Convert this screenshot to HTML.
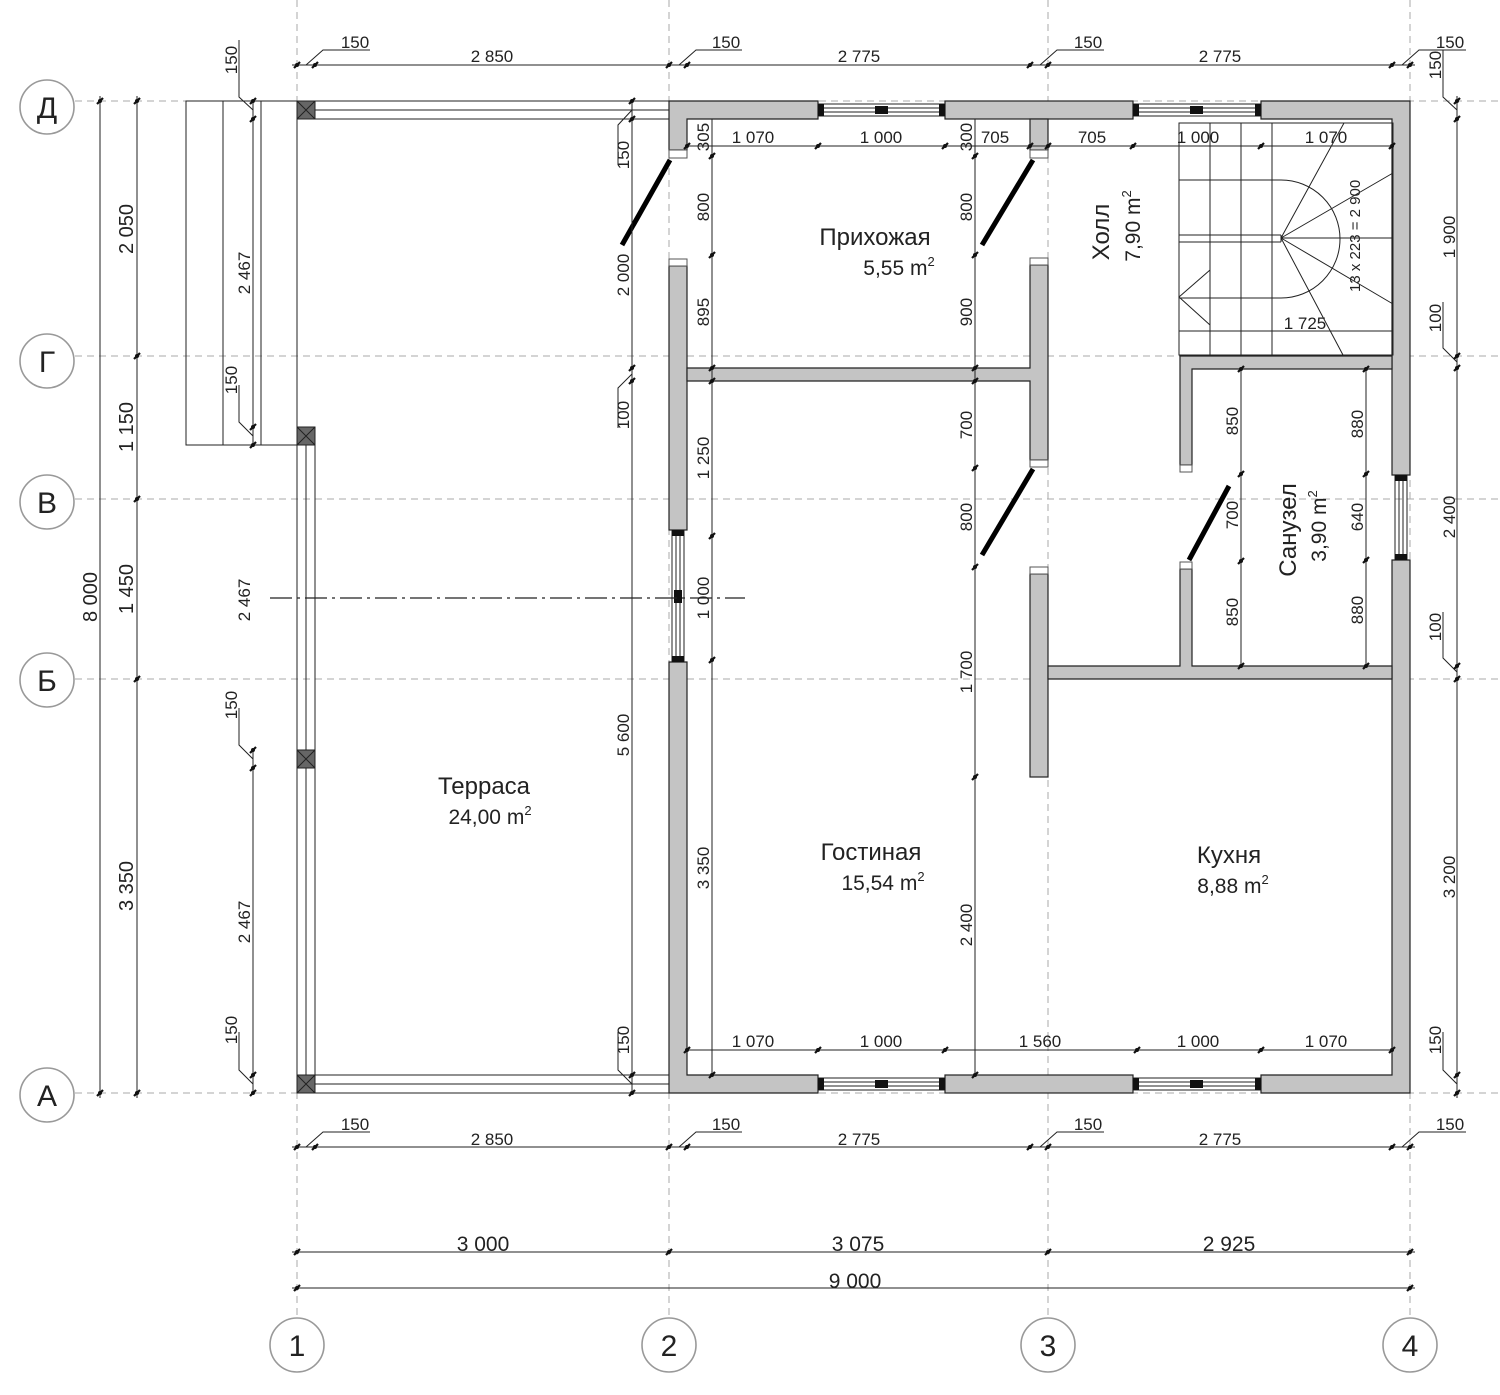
<!DOCTYPE html>
<html><head><meta charset="utf-8"><style>
html,body{margin:0;padding:0;background:#fff}
svg{display:block}
text{font-family:"Liberation Sans",sans-serif;fill:#222}
.d{font-size:17px}
.r{font-size:24px}
.a{font-size:21px}
.g{stroke:#aaa;stroke-width:1;stroke-dasharray:7 5;fill:none}
.l{stroke:#222;stroke-width:1;fill:none}
.w{fill:#c4c4c4;stroke:#222;stroke-width:1.2}
.j{fill:#fff;stroke:#555;stroke-width:1}
.t{stroke:#111;stroke-width:2.2}
.dr{stroke:#000;stroke-width:5}
.c{fill:none;stroke:#999;stroke-width:1.6}
.ax{font-size:30px;fill:#888}
</style></head><body>
<svg width="1500" height="1395" viewBox="0 0 1500 1395" xmlns="http://www.w3.org/2000/svg">
<defs>
<g id="tk"><line x1="-3" y1="3" x2="3" y2="-3" class="t"/><circle r="2" fill="#111"/></g>
</defs>
<g class="g">
<line x1="75" y1="101" x2="1500" y2="101"/>
<line x1="75" y1="356" x2="1500" y2="356"/>
<line x1="75" y1="499" x2="1500" y2="499"/>
<line x1="75" y1="679" x2="1500" y2="679"/>
<line x1="75" y1="1093" x2="1500" y2="1093"/>
<line x1="297" y1="0" x2="297" y2="1318"/>
<line x1="669" y1="0" x2="669" y2="1318"/>
<line x1="1048" y1="0" x2="1048" y2="1318"/>
<line x1="1410" y1="0" x2="1410" y2="1318"/>
</g>
<g class="c">
<circle cx="47" cy="107" r="27"/><circle cx="47" cy="361" r="27"/><circle cx="47" cy="502" r="27"/><circle cx="47" cy="680" r="27"/><circle cx="47" cy="1095" r="27"/>
<circle cx="297" cy="1345" r="27"/><circle cx="669" cy="1345" r="27"/><circle cx="1048" cy="1345" r="27"/><circle cx="1410" cy="1345" r="27"/>
</g>
<g class="ax" text-anchor="middle">
<text x="47" y="118">Д</text><text x="47" y="372">Г</text><text x="47" y="513">В</text><text x="47" y="691">Б</text><text x="47" y="1106">А</text>
<text x="297" y="1356">1</text><text x="669" y="1356">2</text><text x="1048" y="1356">3</text><text x="1410" y="1356">4</text>
</g>

<g class="l">
<rect x="186" y="101" width="111" height="344"/>
<line x1="223" y1="101" x2="223" y2="445"/>
<line x1="261" y1="101" x2="261" y2="445"/>
<line x1="315" y1="101" x2="669" y2="101"/><line x1="315" y1="110" x2="669" y2="110"/><line x1="315" y1="119" x2="669" y2="119"/>
<line x1="315" y1="1075" x2="669" y2="1075"/><line x1="315" y1="1084" x2="669" y2="1084"/><line x1="315" y1="1093" x2="669" y2="1093"/>
<line x1="297" y1="445" x2="297" y2="1075"/><line x1="306" y1="445" x2="306" y2="1075"/><line x1="315" y1="445" x2="315" y2="1075"/>
</g>
<g fill="#666" stroke="#222">
<rect x="297" y="101" width="18" height="18"/><rect x="297" y="427" width="18" height="18"/><rect x="297" y="750" width="18" height="18"/><rect x="297" y="1075" width="18" height="18"/>
</g>
<g stroke="#222" stroke-width="1">
<path d="M297 101l18 18M315 101l-18 18M297 427l18 18M315 427l-18 18M297 750l18 18M315 750l-18 18M297 1075l18 18M315 1075l-18 18"/>
</g>

<g class="w">
<path d="M669 101H818V119H687V150H669Z"/>
<rect x="945" y="101" width="188" height="18"/>
<path d="M1261 101H1410V475H1392V119H1261Z"/>
<path d="M1392 560H1410V1093H1261V1075H1392Z"/>
<rect x="945" y="1075" width="188" height="18"/>
<path d="M669 662H687V1075H818V1093H669Z"/>
<rect x="669" y="266" width="18" height="264"/>
<rect x="1030" y="119" width="18" height="31"/>
<path d="M687 368H1030V265H1048V460H1030V381H687Z"/>
<rect x="1030" y="574" width="18" height="203"/>
<path d="M1180 356H1392V369H1192V465H1180Z"/>
<path d="M1180 569H1192V666H1392V679H1048V666H1180Z"/>
</g>
<g class="j">
<rect x="669" y="150" width="18" height="8"/><rect x="669" y="259" width="18" height="7"/>
<rect x="1030" y="150" width="18" height="8"/><rect x="1030" y="258" width="18" height="7"/>
<rect x="1030" y="460" width="18" height="7"/><rect x="1030" y="567" width="18" height="7"/>
<rect x="1180" y="465" width="12" height="7"/><rect x="1180" y="562" width="12" height="7"/>
</g>
<g class="dr">
<line x1="670" y1="160" x2="622" y2="245"/>
<line x1="1033" y1="160" x2="982" y2="245"/>
<line x1="1033" y1="469" x2="982" y2="555"/>
<line x1="1229" y1="486" x2="1189" y2="560"/>
</g>
<g class="l" stroke-width="0.8">
<path d="M818 104H945M818 108H945M818 112H945M818 116H945"/>
<path d="M1133 104H1261M1133 108H1261M1133 112H1261M1133 116H1261"/>
<path d="M818 1078H945M818 1082H945M818 1086H945M818 1090H945"/>
<path d="M1133 1078H1261M1133 1082H1261M1133 1086H1261M1133 1090H1261"/>
<path d="M672 530V662M676 530V662M680 530V662M684 530V662"/>
<path d="M1395 475V560M1399 475V560M1403 475V560M1407 475V560"/>
</g>
<g fill="#111">
<rect x="818" y="104" width="6" height="12"/><rect x="939" y="104" width="6" height="12"/><rect x="875" y="106" width="13" height="8"/>
<rect x="1133" y="104" width="6" height="12"/><rect x="1255" y="104" width="6" height="12"/><rect x="1190" y="106" width="13" height="8"/>
<rect x="818" y="1078" width="6" height="12"/><rect x="939" y="1078" width="6" height="12"/><rect x="875" y="1080" width="13" height="8"/>
<rect x="1133" y="1078" width="6" height="12"/><rect x="1255" y="1078" width="6" height="12"/><rect x="1190" y="1080" width="13" height="8"/>
<rect x="672" y="530" width="12" height="6"/><rect x="672" y="656" width="12" height="6"/><rect x="674" y="590" width="8" height="13"/>
<rect x="1395" y="475" width="12" height="6"/><rect x="1395" y="554" width="12" height="6"/>
</g>
<line x1="270" y1="598" x2="745" y2="598" stroke="#222" stroke-width="1.3" stroke-dasharray="22 5 3 5"/>

<g class="l">
<rect x="1179" y="123" width="214" height="232"/>
<path d="M1210 123V355M1241 123V355M1272 123V355"/>
<path d="M1179 180H1281A57 57 0 0 1 1281 298H1179"/>
<path d="M1179 235H1281M1179 242H1281M1281 235V242"/>
<path d="M1281 238L1344 123M1281 238L1393 173M1281 238H1393M1281 238L1393 304M1281 238L1343 355"/>
<path d="M1210 270L1179 297L1210 325"/>
<line x1="1179" y1="331" x2="1393" y2="331"/>
</g>
<text class="d" x="1305" y="329" text-anchor="middle">1 725</text>
<text font-size="15" transform="translate(1360,292) rotate(-90)">13 x 223 = 2 900</text>

<g class="l">
<line x1="292" y1="65" x2="1415" y2="65"/>
<line x1="292" y1="1147" x2="1415" y2="1147"/>
<line x1="292" y1="1252" x2="1415" y2="1252"/>
<line x1="292" y1="1288" x2="1415" y2="1288"/>
<line x1="100" y1="96" x2="100" y2="1098"/>
<line x1="137" y1="96" x2="137" y2="1098"/>
<line x1="1457" y1="96" x2="1457" y2="1098"/>
<line x1="253" y1="101" x2="253" y2="445"/>
<line x1="253" y1="750" x2="253" y2="1093"/>
<line x1="632" y1="101" x2="632" y2="1093"/>
<line x1="687" y1="146" x2="1392" y2="146"/>
<line x1="687" y1="1050" x2="1392" y2="1050"/>
<line x1="712" y1="119" x2="712" y2="1075"/>
<line x1="975" y1="119" x2="975" y2="1075"/>
<line x1="1241" y1="369" x2="1241" y2="666"/>
<line x1="1366" y1="369" x2="1366" y2="666"/>
<path d="M306 65L323 50H370M679 65L696 50H742M1040 65L1057 50H1104M1402 65L1419 50H1466"/>
<path d="M306 1147L323 1132H370M679 1147L696 1132H742M1040 1147L1057 1132H1104M1402 1147L1419 1132H1466"/>
<path d="M253 110L239 97V40M253 436L239 422V385M253 759L239 745V708M253 1084L239 1070V1032"/>
<path d="M632 110L618 125V165M632 374L618 388V428M632 1084L618 1070V1032"/>
<path d="M1457 110L1443 97V50M1457 362L1443 348V302M1457 672L1443 658V612M1457 1084L1443 1070V1032"/>
</g>
<g>
<use href="#tk" x="297" y="65"/><use href="#tk" x="315" y="65"/><use href="#tk" x="669" y="65"/><use href="#tk" x="687" y="65"/><use href="#tk" x="1030" y="65"/><use href="#tk" x="1048" y="65"/><use href="#tk" x="1392" y="65"/><use href="#tk" x="1410" y="65"/>
<use href="#tk" x="297" y="1147"/><use href="#tk" x="315" y="1147"/><use href="#tk" x="669" y="1147"/><use href="#tk" x="687" y="1147"/><use href="#tk" x="1030" y="1147"/><use href="#tk" x="1048" y="1147"/><use href="#tk" x="1392" y="1147"/><use href="#tk" x="1410" y="1147"/>
<use href="#tk" x="297" y="1252"/><use href="#tk" x="669" y="1252"/><use href="#tk" x="1048" y="1252"/><use href="#tk" x="1410" y="1252"/>
<use href="#tk" x="297" y="1288"/><use href="#tk" x="1410" y="1288"/>
<use href="#tk" x="100" y="101"/><use href="#tk" x="100" y="1093"/>
<use href="#tk" x="137" y="101"/><use href="#tk" x="137" y="356"/><use href="#tk" x="137" y="499"/><use href="#tk" x="137" y="679"/><use href="#tk" x="137" y="1093"/>
<use href="#tk" x="1457" y="101"/><use href="#tk" x="1457" y="119"/><use href="#tk" x="1457" y="356"/><use href="#tk" x="1457" y="368"/><use href="#tk" x="1457" y="666"/><use href="#tk" x="1457" y="679"/><use href="#tk" x="1457" y="1075"/><use href="#tk" x="1457" y="1093"/>
<use href="#tk" x="253" y="101"/><use href="#tk" x="253" y="119"/><use href="#tk" x="253" y="427"/><use href="#tk" x="253" y="445"/>
<use href="#tk" x="253" y="750"/><use href="#tk" x="253" y="768"/><use href="#tk" x="253" y="1075"/><use href="#tk" x="253" y="1093"/>
<use href="#tk" x="632" y="101"/><use href="#tk" x="632" y="119"/><use href="#tk" x="632" y="368"/><use href="#tk" x="632" y="381"/><use href="#tk" x="632" y="1075"/><use href="#tk" x="632" y="1093"/>
<use href="#tk" x="687" y="146"/><use href="#tk" x="818" y="146"/><use href="#tk" x="945" y="146"/><use href="#tk" x="1030" y="146"/><use href="#tk" x="1048" y="146"/><use href="#tk" x="1133" y="146"/><use href="#tk" x="1261" y="146"/><use href="#tk" x="1392" y="146"/>
<use href="#tk" x="687" y="1050"/><use href="#tk" x="818" y="1050"/><use href="#tk" x="945" y="1050"/><use href="#tk" x="1137" y="1050"/><use href="#tk" x="1261" y="1050"/><use href="#tk" x="1392" y="1050"/>
<use href="#tk" x="712" y="156"/><use href="#tk" x="712" y="255"/><use href="#tk" x="712" y="368"/><use href="#tk" x="712" y="381"/><use href="#tk" x="712" y="536"/><use href="#tk" x="712" y="660"/><use href="#tk" x="712" y="1075"/>
<use href="#tk" x="975" y="156"/><use href="#tk" x="975" y="255"/><use href="#tk" x="975" y="368"/><use href="#tk" x="975" y="381"/><use href="#tk" x="975" y="468"/><use href="#tk" x="975" y="567"/><use href="#tk" x="975" y="777"/><use href="#tk" x="975" y="1075"/>
<use href="#tk" x="1241" y="369"/><use href="#tk" x="1241" y="474"/><use href="#tk" x="1241" y="561"/><use href="#tk" x="1241" y="666"/>
<use href="#tk" x="1366" y="369"/><use href="#tk" x="1366" y="474"/><use href="#tk" x="1366" y="560"/><use href="#tk" x="1366" y="666"/>
</g>

<g class="d" text-anchor="middle">
<text x="355" y="48">150</text><text x="492" y="62">2 850</text><text x="726" y="48">150</text><text x="859" y="62">2 775</text><text x="1088" y="48">150</text><text x="1220" y="62">2 775</text><text x="1450" y="48">150</text>
<text x="355" y="1130">150</text><text x="492" y="1145">2 850</text><text x="726" y="1130">150</text><text x="859" y="1145">2 775</text><text x="1088" y="1130">150</text><text x="1220" y="1145">2 775</text><text x="1450" y="1130">150</text>
<text x="753" y="143">1 070</text><text x="881" y="143">1 000</text><text x="995" y="143">705</text><text x="1092" y="143">705</text><text x="1198" y="143">1 000</text><text x="1326" y="143">1 070</text>
<text x="753" y="1047">1 070</text><text x="881" y="1047">1 000</text><text x="1040" y="1047">1 560</text><text x="1198" y="1047">1 000</text><text x="1326" y="1047">1 070</text>
</g>
<g font-size="21" text-anchor="middle">
<text x="483" y="1251">3 000</text><text x="858" y="1251">3 075</text><text x="1229" y="1251">2 925</text><text x="855" y="1288">9 000</text>
</g>
<g class="d" text-anchor="middle">
<text transform="translate(709,137) rotate(-90)">305</text>
<text transform="translate(709,207) rotate(-90)">800</text>
<text transform="translate(709,312) rotate(-90)">895</text>
<text transform="translate(709,458) rotate(-90)">1 250</text>
<text transform="translate(709,598) rotate(-90)">1 000</text>
<text transform="translate(709,868) rotate(-90)">3 350</text>
<text transform="translate(972,137) rotate(-90)">300</text>
<text transform="translate(972,207) rotate(-90)">800</text>
<text transform="translate(972,312) rotate(-90)">900</text>
<text transform="translate(972,425) rotate(-90)">700</text>
<text transform="translate(972,517) rotate(-90)">800</text>
<text transform="translate(972,672) rotate(-90)">1 700</text>
<text transform="translate(972,925) rotate(-90)">2 400</text>
<text transform="translate(1238,421) rotate(-90)">850</text>
<text transform="translate(1238,515) rotate(-90)">700</text>
<text transform="translate(1238,612) rotate(-90)">850</text>
<text transform="translate(1363,424) rotate(-90)">880</text>
<text transform="translate(1363,517) rotate(-90)">640</text>
<text transform="translate(1363,610) rotate(-90)">880</text>
<text transform="translate(629,155) rotate(-90)">150</text>
<text transform="translate(629,275) rotate(-90)">2 000</text>
<text transform="translate(629,415) rotate(-90)">100</text>
<text transform="translate(629,735) rotate(-90)">5 600</text>
<text transform="translate(629,1040) rotate(-90)">150</text>
<text transform="translate(237,60) rotate(-90)">150</text>
<text transform="translate(250,273) rotate(-90)">2 467</text>
<text transform="translate(237,380) rotate(-90)">150</text>
<text transform="translate(250,600) rotate(-90)">2 467</text>
<text transform="translate(237,705) rotate(-90)">150</text>
<text transform="translate(250,922) rotate(-90)">2 467</text>
<text transform="translate(237,1030) rotate(-90)">150</text>
<text transform="translate(1441,65) rotate(-90)">150</text>
<text transform="translate(1455,237) rotate(-90)">1 900</text>
<text transform="translate(1441,318) rotate(-90)">100</text>
<text transform="translate(1455,517) rotate(-90)">2 400</text>
<text transform="translate(1441,627) rotate(-90)">100</text>
<text transform="translate(1455,877) rotate(-90)">3 200</text>
<text transform="translate(1441,1040) rotate(-90)">150</text>
</g>
<g font-size="20" text-anchor="middle">
<text transform="translate(133,229) rotate(-90)">2 050</text>
<text transform="translate(133,427) rotate(-90)">1 150</text>
<text transform="translate(133,589) rotate(-90)">1 450</text>
<text transform="translate(133,886) rotate(-90)">3 350</text>
<text transform="translate(97,597) rotate(-90)">8 000</text>
</g>

<g text-anchor="middle">
<text class="r" x="875" y="245">Прихожая</text><text class="a" x="899" y="275">5,55 m<tspan font-size="13" dy="-9">2</tspan></text>
<text class="r" x="484" y="794">Терраса</text><text class="a" x="490" y="824">24,00 m<tspan font-size="13" dy="-9">2</tspan></text>
<text class="r" x="871" y="860">Гостиная</text><text class="a" x="883" y="890">15,54 m<tspan font-size="13" dy="-9">2</tspan></text>
<text class="r" x="1229" y="863">Кухня</text><text class="a" x="1233" y="893">8,88 m<tspan font-size="13" dy="-9">2</tspan></text>
<text class="r" transform="translate(1109,232) rotate(-90)">Холл</text>
<text class="a" transform="translate(1140,226) rotate(-90)">7,90 m<tspan font-size="13" dy="-9">2</tspan></text>
<text class="r" transform="translate(1296,530) rotate(-90)">Санузел</text>
<text class="a" transform="translate(1326,526) rotate(-90)">3,90 m<tspan font-size="13" dy="-9">2</tspan></text>
</g>
</svg>
</body></html>
